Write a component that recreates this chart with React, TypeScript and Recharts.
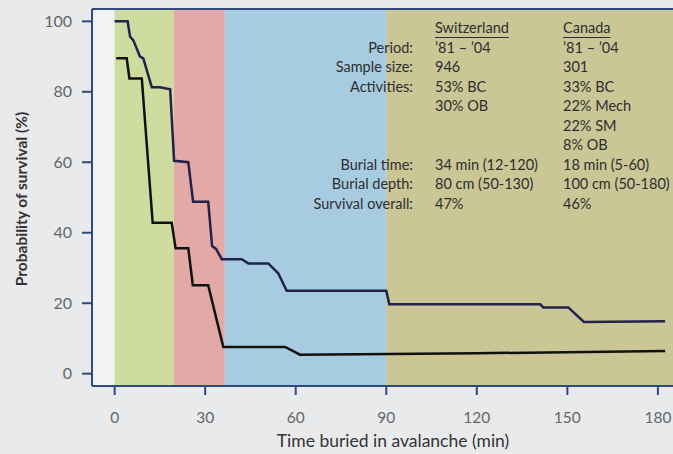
import { LineChart, Line, XAxis, YAxis, ReferenceArea, ReferenceLine, Label } from 'recharts';

// survival curves: [minutes buried, % survival]
const switzerland = [
  { t: 0, p: 100 }, { t: 4.3, p: 100 }, { t: 5.1, p: 95.7 }, { t: 6.2, p: 94.6 },
  { t: 8.4, p: 90 }, { t: 9.5, p: 89.5 }, { t: 12.3, p: 81.3 }, { t: 15, p: 81.3 },
  { t: 18.4, p: 80.7 }, { t: 19.7, p: 60.4 }, { t: 24.4, p: 60 }, { t: 26, p: 48.8 },
  { t: 31, p: 48.8 }, { t: 32.3, p: 36.2 }, { t: 33.6, p: 35.4 }, { t: 35.5, p: 32.5 },
  { t: 42.1, p: 32.5 }, { t: 44.3, p: 31.3 }, { t: 50.9, p: 31.3 }, { t: 54.2, p: 28.5 },
  { t: 57, p: 23.5 }, { t: 90, p: 23.5 }, { t: 91, p: 19.7 }, { t: 141, p: 19.7 },
  { t: 142, p: 18.8 }, { t: 150.3, p: 18.8 }, { t: 155.5, p: 14.7 }, { t: 182.4, p: 14.9 },
];

const canada = [
  { t: 0.5, p: 89.5 }, { t: 4, p: 89.5 }, { t: 4.9, p: 83.8 }, { t: 9, p: 83.8 },
  { t: 12.6, p: 42.8 }, { t: 18.9, p: 42.8 }, { t: 20.2, p: 35.6 }, { t: 24.4, p: 35.6 },
  { t: 25.9, p: 25.1 }, { t: 31, p: 25.1 }, { t: 36, p: 7.6 }, { t: 56.5, p: 7.6 },
  { t: 61.4, p: 5.4 }, { t: 120, p: 5.8 }, { t: 182.4, p: 6.4 },
];

// shaded time bands (min)
const bands = [
  { from: -7.5, to: 0, color: '#f1f2f3' },
  { from: 0, to: 19.6, color: '#cfdc9f' },
  { from: 19.6, to: 36.5, color: '#e2a9a6' },
  { from: 36.5, to: 90, color: '#a7cce2' },
  { from: 90, to: 185, color: '#cac696' },
];

const xTicks = [0, 30, 60, 90, 120, 150, 180];
const yTicks = [0, 20, 40, 60, 80, 100];

const rowLabels = ['', 'Period:', 'Sample size:', 'Activities:', '', '', '', 'Burial time:', 'Burial depth:', 'Survival overall:'];
const swissCol = ['Switzerland', '’81 – ’04', '946', '53% BC', '30% OB', '', '', '34 min (12-120)', '80 cm (50-130)', '47%'];
const canadaCol = ['Canada', '’81 – ’04', '301', '33% BC', '22% Mech', '22% SM', '8% OB', '18 min (5-60)', '100 cm (50-180)', '46%'];

const AXIS = '#2f4b7a';
const FONT = 'Lato, "Noto Sans", sans-serif';
const TXT = '#2e2e2e';

export default function App() {
  const rowTop = (i: number) => 18 + i * 19.5;
  const cell = { position: 'absolute' as const, fontSize: 14.5, lineHeight: '20px', color: TXT, whiteSpace: 'nowrap' as const };
  return (
    <div style={{ position: 'absolute', left: 0, top: 0, width: 673, height: 454, background: '#e9eaec', fontFamily: FONT, overflow: 'hidden' }}>
      <LineChart width={673} height={454} margin={{ top: 9, right: 0, bottom: 0, left: 0 }}>
        {bands.map((b) => (
          <ReferenceArea key={b.from} x1={b.from} x2={b.to} y1={-3.5} y2={103.5} fill={b.color} fillOpacity={1} stroke="none" />
        ))}
        <XAxis
          type="number"
          dataKey="t"
          domain={[-7.5, 185]}
          ticks={xTicks}
          allowDataOverflow
          height={68}
          axisLine={{ stroke: AXIS, strokeWidth: 2 }}
          tickLine={{ stroke: AXIS, strokeWidth: 2 }}
          tickSize={9}
          tickMargin={17}
          tick={{ fill: '#666', fontSize: 15.5, fontFamily: FONT }}
        >
          <Label
            content={() => (
              <text x={393} y={447} textAnchor="middle" fill="#333" fontSize={17.5} fontFamily={FONT}>
                Time buried in avalanche (min)
              </text>
            )}
          />
        </XAxis>
        <YAxis
          type="number"
          domain={[-3.5, 103.5]}
          ticks={yTicks}
          allowDataOverflow
          width={92}
          axisLine={{ stroke: AXIS, strokeWidth: 2 }}
          tickLine={{ stroke: AXIS, strokeWidth: 2 }}
          tickSize={10}
          tickMargin={10}
          tick={{ fill: '#666', fontSize: 16, fontFamily: FONT }}
        >
          <Label
            content={() => (
              <text transform="translate(27,199) rotate(-90)" textAnchor="middle" fill="#333" fontSize={15.5} fontWeight={700} fontFamily={FONT}>
                Probability of survival (%)
              </text>
            )}
          />
        </YAxis>
        <ReferenceLine y={103.5} stroke={AXIS} strokeWidth={2} />
        <Line data={switzerland} dataKey="p" type="linear" stroke="#23224c" strokeWidth={2.5} dot={false} isAnimationActive={false} />
        <Line data={canada} dataKey="p" type="linear" stroke="#111111" strokeWidth={2.5} dot={false} isAnimationActive={false} />
      </LineChart>

      {rowLabels.map((l, i) => (
        <div key={'l' + i} style={{ ...cell, top: rowTop(i), right: 673 - 413 }}>
          {l}
        </div>
      ))}
      {swissCol.map((v, i) => (
        <div key={'s' + i} style={{ ...cell, top: rowTop(i), left: 435, textDecoration: i === 0 ? 'underline' : 'none', textUnderlineOffset: 4 }}>
          {v}
        </div>
      ))}
      {canadaCol.map((v, i) => (
        <div key={'c' + i} style={{ ...cell, top: rowTop(i), left: 563, textDecoration: i === 0 ? 'underline' : 'none', textUnderlineOffset: 4 }}>
          {v}
        </div>
      ))}
    </div>
  );
}
